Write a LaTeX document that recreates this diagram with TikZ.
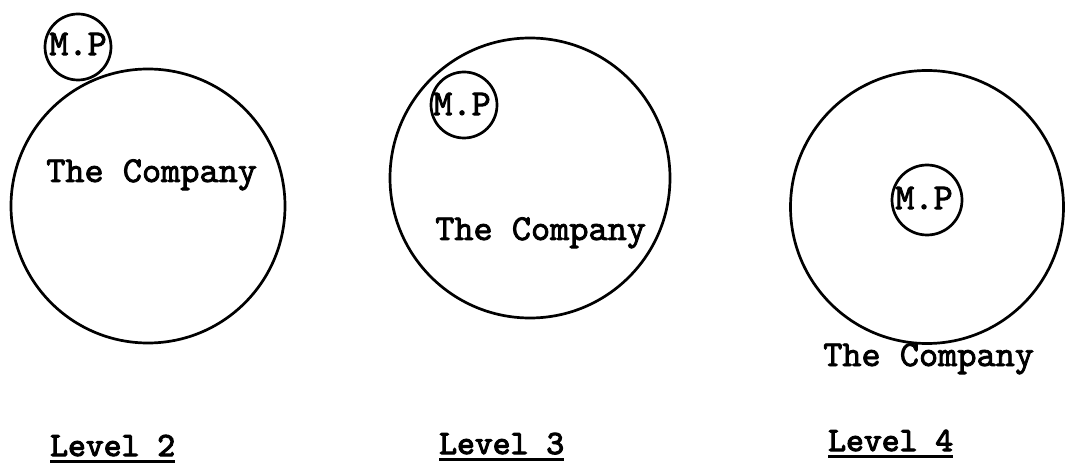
\documentclass[tikz,border=0pt]{standalone}
\usepackage{fontspec}
\newfontfamily\twfont{lmmono10-regular.otf}[FakeBold=2.2]
\newfontfamily\twheavy{lmmono10-regular.otf}[FakeBold=3.2]
\begin{document}
\begin{tikzpicture}[x=1pt,y=-1pt,
  circ/.style={draw=black,line width=2.7pt,circle,inner sep=0pt},
  lbl/.style={font=\twfont\fontsize{36.5}{36}\selectfont,inner sep=0pt},
  lvl/.style={font=\twheavy\fontsize{34}{34}\selectfont,inner sep=0pt,anchor=base west},
  ul/.style={line width=3pt}]
\useasboundingbox (0,0) rectangle (1065,470);
% Level 2
\node[circ,minimum size=274pt] (c1) at (148,206) {};
\node[circ,minimum size=66pt] (m1) at (78,47) {};
\node[lbl] (mp1) at (78,44) {M.P};
\node[lbl,anchor=base west] (t1) at (46,182) {The Company};
% Level 3
\node[circ,minimum size=280pt] (c2) at (530,178) {};
\node[circ,minimum size=66pt] (m2) at (464,105) {};
\node[lbl] (mp2) at (462,104) {M.P};
\node[lbl,anchor=base west] (t2) at (435,240) {The Company};
% Level 4
\node[circ,minimum size=273pt] (c3) at (927,207) {};
\node[circ,minimum size=70pt] (m3) at (927,200) {};
\node[lbl] (mp3) at (924,198) {M.P};
\node[lbl,anchor=base west] (t3) at (823,366) {The Company};
% levels
\node[lvl] (l2) at (50,456) {Level 2};
\node[lvl] (l3) at (439,454) {Level 3};
\node[lvl] (l4) at (828,451) {Level 4};
\draw[ul] ([yshift=-5pt]l2.base west) -- ([yshift=-5pt]l2.base east);
\draw[ul] ([yshift=-5pt]l3.base west) -- ([yshift=-5pt]l3.base east);
\draw[ul] ([yshift=-5pt]l4.base west) -- ([yshift=-5pt]l4.base east);
\end{tikzpicture}
\end{document}
